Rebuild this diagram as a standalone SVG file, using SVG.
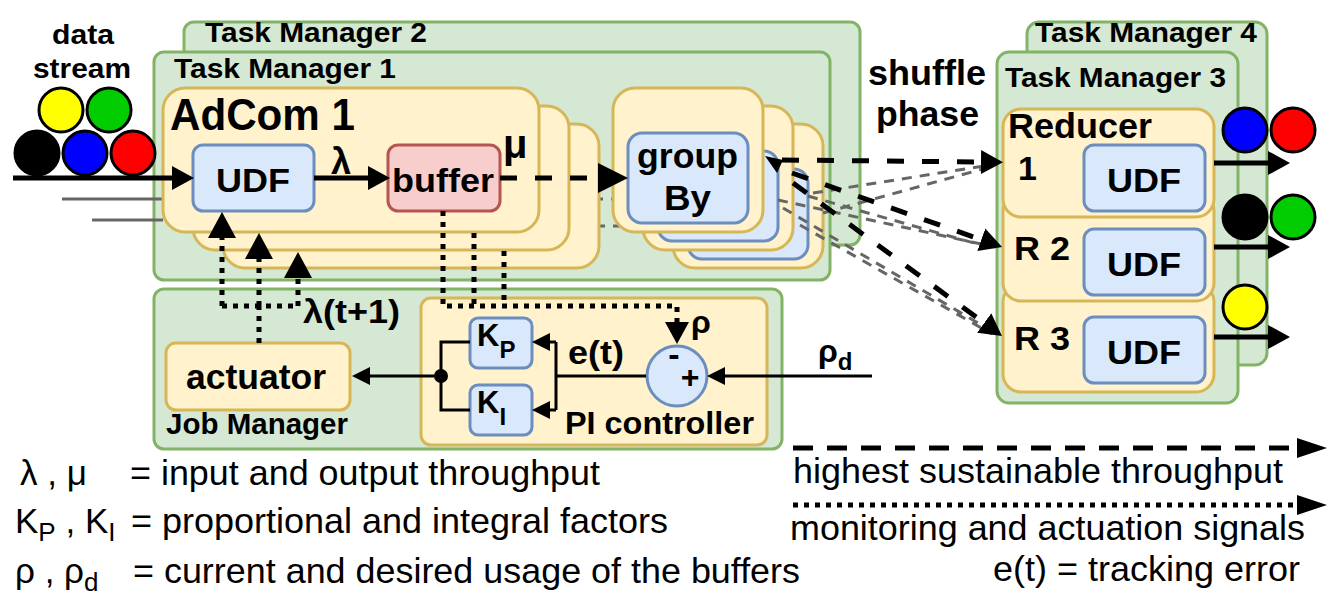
<svg xmlns="http://www.w3.org/2000/svg" width="1341" height="609" viewBox="0 0 1341 609">
<defs>
<style>
.tm{fill:#d5e8d4;stroke:#82b366;stroke-width:3}
.y{fill:#fff2cc;stroke:#d6b656;stroke-width:3}
.b{fill:#dae8fc;stroke:#6c8ebf;stroke-width:3}
.r{fill:#f8cecc;stroke:#b85450;stroke-width:3}
text{font-family:"Liberation Sans",Arial,sans-serif;fill:#000}
.bd{font-weight:bold}
.solid{stroke:#000;stroke-width:5;fill:none}
.thin{stroke:#000;stroke-width:3;fill:none}
.dash{stroke:#000;stroke-width:5;stroke-dasharray:17 18;fill:none}
.ldash{stroke:#000;stroke-width:5;stroke-dasharray:20 14;fill:none}
.dot{stroke:#000;stroke-width:5;stroke-dasharray:5 6;fill:none}
.gdash{stroke:#666;stroke-width:3;stroke-dasharray:10 8;fill:none}
.gline{stroke:#666;stroke-width:3;fill:none}
.ball{stroke:#000;stroke-width:3}
</style>
<marker id="aL" markerUnits="userSpaceOnUse" markerWidth="30" markerHeight="30" refX="0" refY="15" orient="auto" viewBox="0 0 30 30"><path d="M0,0L30,15L0,30z" fill="#000"/></marker>
<marker id="aM" markerUnits="userSpaceOnUse" markerWidth="22" markerHeight="24" refX="0" refY="12" orient="auto" viewBox="0 0 22 24"><path d="M0,0L22,12L0,24z" fill="#000"/></marker>
<marker id="aD" markerUnits="userSpaceOnUse" markerWidth="26" markerHeight="28" refX="0" refY="14" orient="auto" viewBox="0 0 26 28"><path d="M0,0L26,14L0,28z" fill="#000"/></marker>
<marker id="aS" markerUnits="userSpaceOnUse" markerWidth="18" markerHeight="18" refX="0" refY="9" orient="auto" viewBox="0 0 18 18"><path d="M0,0L18,9L0,18z" fill="#000"/></marker>
<marker id="aG" markerUnits="userSpaceOnUse" markerWidth="30" markerHeight="20" refX="0" refY="10" orient="auto" viewBox="0 0 30 20"><path d="M0,0L30,10L0,20z" fill="#000"/></marker>
</defs>
<rect width="1341" height="609" fill="#fff"/>

<g id="tm2"><rect class="tm" x="184" y="22" width="676" height="223" rx="10"/>
<text class="bd" x="205" y="42" font-size="28" textLength="222" lengthAdjust="spacingAndGlyphs">Task Manager 2</text></g>
<g id="tm1"><rect class="tm" x="154" y="52" width="676" height="228" rx="10"/>
<text class="bd" x="174" y="78" font-size="28" textLength="222" lengthAdjust="spacingAndGlyphs">Task Manager 1</text></g>

<g id="gray-behind">
<path class="gline" d="M62,199H163M92,220H163"/>
<path class="gdash" d="M539,199H613M577,226H620"/>
</g>

<g id="adcom">
<rect class="y" x="223" y="124" width="376" height="144" rx="22"/>
<rect class="y" x="193" y="106" width="376" height="144" rx="22"/>
<rect class="y" x="163" y="88" width="376" height="144" rx="22"/>
<text class="bd" x="170" y="130" font-size="44" textLength="185" lengthAdjust="spacingAndGlyphs">AdCom 1</text>
</g>
<g id="udf"><rect class="b" x="193" y="145" width="121" height="66" rx="10"/>
<text class="bd" x="216" y="192" font-size="34" textLength="74" lengthAdjust="spacingAndGlyphs">UDF</text></g>
<g id="buffer"><rect class="r" x="388" y="145" width="112" height="66" rx="10"/>
<text class="bd" x="392" y="192" font-size="34" textLength="102" lengthAdjust="spacingAndGlyphs">buffer</text></g>

<g id="groupby">
<rect class="y" x="673" y="124" width="150" height="144" rx="22"/>
<rect class="b" x="688" y="169" width="120" height="90" rx="14"/>
<rect class="y" x="643" y="106" width="150" height="144" rx="22"/>
<rect class="b" x="658" y="151" width="120" height="90" rx="14"/>
<rect class="y" x="613" y="88" width="150" height="144" rx="22"/>
<rect class="b" x="628" y="133" width="120" height="90" rx="14"/>
<text class="bd" x="637" y="168" font-size="35" textLength="101" lengthAdjust="spacingAndGlyphs">group</text>
<text class="bd" x="664" y="210" font-size="35" textLength="47" lengthAdjust="spacingAndGlyphs">By</text>
</g>

<g id="stream">
<text class="bd" x="52" y="44" font-size="28" textLength="62" lengthAdjust="spacingAndGlyphs">data</text>
<text class="bd" x="33" y="78" font-size="28" textLength="98" lengthAdjust="spacingAndGlyphs">stream</text>
<circle class="ball" cx="61" cy="110" r="22" fill="#ffff00"/>
<circle class="ball" cx="109" cy="110" r="22" fill="#00cc00"/>
<circle class="ball" cx="37" cy="153" r="22" fill="#000"/>
<circle class="ball" cx="85" cy="153" r="22" fill="#0000ff"/>
<circle class="ball" cx="133" cy="153" r="22" fill="#ff0000"/>
</g>

<g id="shuffle">
<text class="bd" x="868" y="85" font-size="35" textLength="118" lengthAdjust="spacingAndGlyphs">shuffle</text>
<text class="bd" x="876" y="126" font-size="35" textLength="103" lengthAdjust="spacingAndGlyphs">phase</text>
</g>

<g id="tm4"><rect class="tm" x="1027" y="22" width="240" height="343" rx="12"/>
<text class="bd" x="1035" y="42" font-size="28" textLength="222" lengthAdjust="spacingAndGlyphs">Task Manager 4</text></g>
<g id="tm3"><rect class="tm" x="997" y="52" width="241" height="351" rx="12"/>
<text class="bd" x="1005" y="87" font-size="28" textLength="221" lengthAdjust="spacingAndGlyphs">Task Manager 3</text></g>

<g id="r3"><rect class="y" x="1003" y="284" width="211" height="108" rx="18"/>
<text class="bd" x="1014" y="350" font-size="34" textLength="56" lengthAdjust="spacingAndGlyphs">R 3</text>
<rect class="b" x="1084" y="317" width="121" height="66" rx="10"/>
<text class="bd" x="1107" y="364" font-size="34" textLength="74" lengthAdjust="spacingAndGlyphs">UDF</text></g>
<g id="r2"><rect class="y" x="1003" y="193" width="211" height="108" rx="18"/>
<text class="bd" x="1014" y="260" font-size="34" textLength="56" lengthAdjust="spacingAndGlyphs">R 2</text>
<rect class="b" x="1084" y="229" width="121" height="66" rx="10"/>
<text class="bd" x="1107" y="276" font-size="34" textLength="74" lengthAdjust="spacingAndGlyphs">UDF</text></g>
<g id="r1"><rect class="y" x="1003" y="109" width="211" height="108" rx="18"/>
<text class="bd" x="1008" y="138" font-size="35" textLength="144" lengthAdjust="spacingAndGlyphs">Reducer</text>
<text class="bd" x="1018" y="180" font-size="34">1</text>
<rect class="b" x="1084" y="145" width="121" height="66" rx="10"/>
<text class="bd" x="1107" y="192" font-size="34" textLength="74" lengthAdjust="spacingAndGlyphs">UDF</text></g>

<g id="out-balls">
<circle class="ball" cx="1245" cy="130" r="22" fill="#0000ff"/>
<circle class="ball" cx="1293" cy="130" r="22" fill="#ff0000"/>
<circle class="ball" cx="1245" cy="217" r="22" fill="#000"/>
<circle class="ball" cx="1293" cy="217" r="22" fill="#00cc00"/>
<circle class="ball" cx="1245" cy="307" r="22" fill="#ffff00"/>
</g>

<g id="jm"><rect class="tm" x="154" y="289" width="628" height="160" rx="10"/>
<text class="bd" x="166" y="434" font-size="29" textLength="182" lengthAdjust="spacingAndGlyphs">Job Manager</text></g>
<g id="actuator"><rect class="y" x="166" y="343" width="184" height="67" rx="10"/>
<text class="bd" x="186" y="389" font-size="35" textLength="140" lengthAdjust="spacingAndGlyphs">actuator</text></g>
<g id="pi"><rect class="y" x="421" y="298" width="346" height="147" rx="10"/>
<text class="bd" x="565" y="434" font-size="31" textLength="189" lengthAdjust="spacingAndGlyphs">PI controller</text></g>
<g id="kp"><rect class="b" x="470" y="318" width="62" height="50" rx="8"/>
<text class="bd" x="477" y="346" font-size="31">K<tspan font-size="24" dy="12">P</tspan></text></g>
<g id="ki"><rect class="b" x="470" y="385" width="62" height="50" rx="8"/>
<text class="bd" x="477" y="413" font-size="31">K<tspan font-size="24" dy="12">I</tspan></text></g>
<g id="sum"><circle class="b" cx="677" cy="376" r="30"/>
<text class="bd" x="674" y="366" font-size="34" text-anchor="middle">-</text>
<text class="bd" x="690" y="388" font-size="32" text-anchor="middle">+</text></g>

<g id="connectors">
<path class="solid" d="M13,178H172" marker-end="url(#aM)"/>
<path class="solid" d="M314,178H368" marker-end="url(#aM)"/>
<path class="dash" d="M500,178H598" marker-end="url(#aL)"/>
<path class="gdash" d="M813,193L990,165M823,213L990,167M778,200L995,247M808,196L995,249M783,208L990,330M800,225L992,334"/>
<path class="dash" d="M782,160L981,162" marker-end="url(#aM)"/>
<path class="dash" d="M792,173L981.3,239.7" marker-end="url(#aM)"/>
<path class="dash" d="M793,183L984.2,323" marker-end="url(#aM)"/>
<polygon points="765,156 783,160 777,173" fill="#000"/>
<path class="solid" d="M1214,163H1268" marker-end="url(#aM)"/>
<path class="solid" d="M1214,247H1268" marker-end="url(#aM)"/>
<path class="solid" d="M1214,337H1268" marker-end="url(#aM)"/>
<path class="dot" d="M443,211V306H677V322" marker-end="url(#aM)"/>
<path class="dot" d="M474,233V306M504,251V306"/>
<path class="dot" d="M259,343V306M222,306H298"/>
<path class="dot" d="M222,306V238" marker-end="url(#aD)"/>
<path class="dot" d="M259,306V259" marker-end="url(#aD)"/>
<path class="dot" d="M298,306V278" marker-end="url(#aD)"/>
<path class="thin" d="M872,376H725" marker-end="url(#aS)"/>
<path class="thin" d="M646,376H556V342M556,376V410"/>
<path class="thin" d="M556,342H550" marker-end="url(#aS)"/>
<path class="thin" d="M556,410H550" marker-end="url(#aS)"/>
<path class="thin" d="M470,342H441V410H470"/>
<path class="thin" d="M441,376H370" marker-end="url(#aS)"/>
<circle cx="441" cy="376" r="7" fill="#000"/>
</g>

<g id="labels">
<text class="bd" x="331" y="174" font-size="36">λ</text>
<text class="bd" x="503" y="158" font-size="40">μ</text>
<text class="bd" x="303" y="323" font-size="34" textLength="97" lengthAdjust="spacingAndGlyphs">λ(t+1)</text>
<text class="bd" x="568" y="364" font-size="34" textLength="56" lengthAdjust="spacingAndGlyphs">e(t)</text>
<text class="bd" x="691" y="333" font-size="32">ρ</text>
<text class="bd" x="818" y="362" font-size="32">ρ<tspan font-size="24" dy="8">d</tspan></text>
</g>

<g id="legend">
<path class="ldash" d="M793,448H1297" marker-end="url(#aG)"/>
<path class="dot" d="M793,505H1297" marker-end="url(#aG)"/>
<text x="793" y="483" font-size="35" textLength="490" lengthAdjust="spacingAndGlyphs">highest sustainable throughput</text>
<text x="790" y="540" font-size="35" textLength="515" lengthAdjust="spacingAndGlyphs">monitoring and actuation signals</text>
<text x="993" y="581" font-size="35" textLength="307" lengthAdjust="spacingAndGlyphs">e(t) = tracking error</text>
<text x="20" y="485" font-size="35">λ , μ</text>
<text x="130" y="485" font-size="35" textLength="470" lengthAdjust="spacingAndGlyphs">= input and output throughput</text>
<text x="15" y="533" font-size="35">K<tspan font-size="26" dy="8">P</tspan><tspan dy="-8"> , K</tspan><tspan font-size="26" dy="8">I</tspan></text>
<text x="131" y="533" font-size="35" textLength="537" lengthAdjust="spacingAndGlyphs">= proportional and integral factors</text>
<text x="15" y="583" font-size="35">ρ , ρ<tspan font-size="26" dy="8">d</tspan></text>
<text x="133" y="583" font-size="35" textLength="667" lengthAdjust="spacingAndGlyphs">= current and desired usage of the buffers</text>
</g>
</svg>
